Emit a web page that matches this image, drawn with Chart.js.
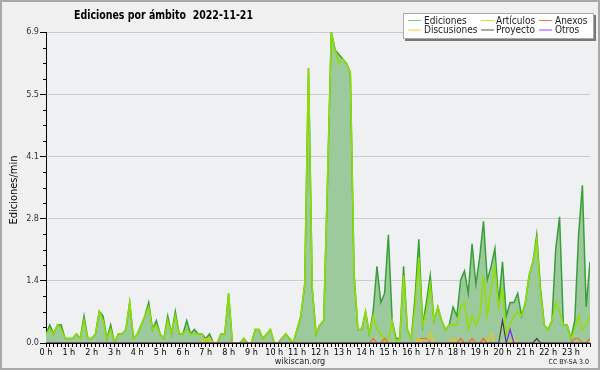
<!DOCTYPE html>
<html>
<head>
<meta charset="utf-8">
<script src="https://cdn.jsdelivr.net/npm/chart.js@4.4.0/dist/chart.umd.min.js"></script>
<style>
html, body {margin: 0; padding: 0; background: #f0f0f0;}
canvas {display: block;}
</style>
</head>
<body>
<canvas id="ediciones_canvas" width="600" height="370"></canvas>
<script>
// one value per 10 minutes, 00:00 .. 23:50 (edits per minute)
const ediciones = [
    0.2,0.4,0.2,0.4,0.4,0.1, 0.1,0.1,0.2,0.1,0.6,0.1, 0.1,0.2,0.7,0.6,0.1,0.4, 0.0,0.2,0.2,0.3,0.9,0.1,
    0.2,0.4,0.6,0.9,0.3,0.5, 0.2,0.1,0.6,0.2,0.7,0.2, 0.2,0.5,0.2,0.3,0.2,0.2, 0.1,0.2,0.0,0.0,0.2,0.2,
    1.1,0.0,0.0,0.0,0.1,0.0, 0.0,0.3,0.3,0.1,0.2,0.3, 0.0,0.0,0.1,0.2,0.1,0.0, 0.3,0.6,1.3,6.1,1.2,0.2,
    0.4,0.5,3.6,6.9,6.5,6.4, 6.3,6.2,6.0,1.5,0.3,0.3, 0.7,0.2,0.7,1.7,0.9,1.1, 2.4,0.5,0.1,0.1,1.7,0.3,
    0.1,1.0,2.3,0.4,0.9,1.5, 0.5,0.8,0.5,0.3,0.4,0.8, 0.6,1.4,1.6,1.1,2.2,1.3, 1.9,2.7,1.4,1.7,2.1,0.9,
    1.8,0.6,0.9,0.9,1.1,0.6, 0.9,1.5,1.8,2.4,1.2,0.4, 0.3,0.5,2.1,2.8,0.4,0.4, 0.1,0.5,2.4,3.5,0.8,1.8
];
const articulos = [
    0.2,0.3,0.2,0.4,0.3,0.1, 0.1,0.1,0.2,0.1,0.5,0.1, 0.1,0.2,0.7,0.5,0.1,0.3, 0.0,0.2,0.2,0.3,0.9,0.1,
    0.2,0.4,0.6,0.8,0.3,0.4, 0.2,0.1,0.5,0.2,0.6,0.2, 0.2,0.3,0.2,0.2,0.2,0.2, 0.0,0.1,0.0,0.0,0.2,0.2,
    1.1,0.0,0.0,0.0,0.1,0.0, 0.0,0.3,0.3,0.1,0.2,0.3, 0.0,0.0,0.1,0.2,0.1,0.0, 0.3,0.6,1.3,6.1,1.2,0.2,
    0.4,0.5,3.6,6.9,6.5,6.2, 6.3,6.2,6.0,1.5,0.3,0.3, 0.7,0.2,0.6,0.3,0.2,0.1, 0.1,0.5,0.0,0.1,1.5,0.3,
    0.1,0.8,1.9,0.4,0.7,1.3, 0.5,0.8,0.5,0.3,0.4,0.4, 0.4,0.8,0.9,0.3,0.6,0.4, 0.6,1.5,0.6,1.2,1.7,0.8,
    1.2,0.2,0.4,0.6,0.7,0.6, 0.9,1.5,1.8,2.3,1.1,0.4, 0.3,0.5,0.9,0.7,0.4,0.4, 0.1,0.3,0.6,0.3,0.4,0.6
];
const anexos = [
    0,0,0,0,0,0, 0,0,0,0,0,0, 0,0,0,0,0,0, 0,0,0,0,0,0,
    0,0,0,0,0,0, 0,0,0,0,0,0, 0,0,0,0,0,0, 0,0,0,0,0,0,
    0,0,0,0,0,0, 0,0,0,0,0,0, 0,0,0,0,0,0, 0,0,0,0,0,0,
    0,0,0,0,0,0, 0,0,0,0,0,0, 0,0,0.1,0,0,0.1, 0,0,0,0,0,0,
    0,0,0.1,0.1,0.1,0, 0,0,0,0,0,0, 0,0.1,0,0,0.1,0, 0,0.1,0,0,0,0,
    0,0,0,0,0,0, 0,0,0,0,0,0, 0,0,0,0,0,0, 0,0.1,0.1,0,0,0.1
];
const discusiones = [
    0,0,0,0,0,0, 0,0,0,0,0,0, 0,0,0,0,0,0, 0,0,0,0,0,0,
    0,0,0,0,0,0, 0,0,0,0,0,0, 0,0,0,0,0,0, 0.1,0.1,0,0,0,0,
    0,0,0,0,0,0, 0,0,0,0,0,0, 0,0,0,0,0,0, 0,0,0,0,0,0,
    0,0,0,0,0,0, 0,0,0,0,0,0, 0,0,0,0,0,0, 0,0,0,0,0,0,
    0,0,0.1,0,0,0.2, 0,0,0,0,0,0.1, 0,0,0,0,0,0, 0,0,0,0.2,0,0,
    0,0,0,0.1,0,0, 0,0,0,0,0,0, 0,0,0,0,0,0, 0,0,0,0,0,0
];
const proyecto = [
    0,0,0,0,0,0, 0,0,0,0,0,0, 0,0,0,0,0,0, 0,0,0,0,0,0,
    0,0,0,0,0,0, 0,0,0,0,0,0, 0,0,0,0,0,0, 0,0,0,0,0,0,
    0,0,0,0,0,0, 0,0,0,0,0,0, 0,0,0,0,0,0, 0,0,0,0,0,0,
    0,0,0,0,0,0, 0,0,0,0,0,0, 0,0,0,0,0,0, 0,0,0,0,0,0,
    0,0,0,0,0,0, 0,0,0,0,0,0, 0,0,0,0,0,0, 0,0,0,0,0,0,
    0.5,0,0,0,0,0, 0,0,0,0.1,0,0, 0,0,0,0,0,0, 0,0,0,0,0,0
];
const otros = [
    0,0,0,0,0,0, 0,0,0,0,0,0, 0,0,0,0,0,0, 0,0,0,0,0,0,
    0,0,0,0,0,0, 0,0,0,0,0,0, 0,0,0,0,0,0, 0,0,0,0,0,0,
    0,0,0,0,0,0, 0,0,0,0,0,0, 0,0,0,0,0,0, 0,0,0,0,0,0,
    0,0,0,0,0,0, 0,0,0,0,0,0, 0,0,0,0,0,0, 0,0,0,0,0,0,
    0,0,0,0,0,0, 0,0,0,0,0,0, 0,0,0,0,0,0, 0,0,0,0,0,0,
    0,0,0.3,0,0,0, 0,0,0,0,0,0, 0,0,0,0,0,0, 0,0,0,0,0,0
];

const y_ticks = [0, 1.38, 2.76, 4.14, 5.52, 6.9];
const y_labels = ["0.0", "1.4", "2.8", "4.1", "5.5", "6.9"];
const legend_rows = [["Ediciones", "Artículos", "Anexos"], ["Discusiones", "Proyecto", "Otros"]];

const title_text = "Ediciones por ámbito  2022-11-21";
const font_family = '"DejaVu Sans Condensed", "DejaVu Sans", sans-serif';

function to_points(values) {
    return values.map((v, i) => ({x: i / 6, y: v}));
}

// draws text squeezed to a given width
function fit_text(ctx, text, x, y, width) {
    const w = ctx.measureText(text).width;
    ctx.save();
    ctx.translate(x, y);
    ctx.scale(width / w, 1);
    ctx.fillText(text, 0, 0);
    ctx.restore();
}

const legend_colors = {
    "Ediciones": "#77cc77", "Artículos": "#bbee22", "Anexos": "#ff7744",
    "Discusiones": "#ffcc33", "Proyecto": "#555555", "Otros": "#9944ff"
};

const decor_plugin = {
    id: "decor",
    beforeDraw(chart) {
        const {ctx, chartArea} = chart;
        ctx.save();
        ctx.fillStyle = "#f0f0f0";
        ctx.fillRect(0, 0, chart.width, chart.height);
        ctx.fillStyle = "#eef0f2";
        ctx.fillRect(chartArea.left, chartArea.top, chartArea.right - chartArea.left, chartArea.bottom - chartArea.top);
        ctx.restore();
    },
    afterDraw(chart) {
        const {ctx, chartArea} = chart;
        const y_scale = chart.scales.y;
        ctx.save();

        // minor ticks on the y axis
        ctx.strokeStyle = "#000";
        ctx.lineWidth = 1;
        ctx.beginPath();
        for (let k = 0; k < y_ticks.length - 1; k++) {
            for (let m = 1; m < 4; m++) {
                const v = y_ticks[k] + (y_ticks[k + 1] - y_ticks[k]) * m / 4;
                const py = Math.round(y_scale.getPixelForValue(v)) + 0.5;
                ctx.moveTo(chartArea.left - 3, py);
                ctx.lineTo(chartArea.left, py);
            }
        }
        ctx.stroke();

        // title
        ctx.fillStyle = "#000";
        ctx.font = "bold 13px " + font_family;
        ctx.textBaseline = "alphabetic";
        fit_text(ctx, title_text, 74, 18.5, 179);

        // legend box
        ctx.fillStyle = "#777";
        ctx.fillRect(405, 15, 191, 26);
        ctx.fillStyle = "#fff";
        ctx.fillRect(403, 13, 191, 26);
        ctx.strokeStyle = "#aaa";
        ctx.strokeRect(403.5, 13.5, 190, 25);

        const line_x = [408, 481, 539];
        const text_x = [424, 496, 555];
        const row_y = [20, 29.5];
        ctx.font = "10px " + font_family;
        ctx.lineWidth = 1;
        legend_rows.forEach((row, r) => {
            row.forEach((name, c) => {
                ctx.strokeStyle = legend_colors[name];
                ctx.beginPath();
                ctx.moveTo(line_x[c], row_y[r] + 0.5);
                ctx.lineTo(line_x[c] + 13, row_y[r] + 0.5);
                ctx.stroke();
                ctx.fillStyle = "#222";
                ctx.fillText(name, text_x[c], row_y[r] + 3.5);
            });
        });

        // y axis title
        ctx.fillStyle = "#000";
        ctx.font = "11px " + font_family;
        ctx.save();
        ctx.translate(17, 190);
        ctx.rotate(-Math.PI / 2);
        ctx.textAlign = "center";
        ctx.fillText("Ediciones/min", 0, 0);
        ctx.restore();

        // footer
        ctx.font = "9px " + font_family;
        ctx.textAlign = "center";
        ctx.fillStyle = "#222";
        ctx.fillText("wikiscan.org", 300, 364);
        ctx.font = "7px " + font_family;
        ctx.textAlign = "right";
        ctx.fillText("CC BY-SA 3.0", 589, 364);

        // frame of the picture
        ctx.strokeStyle = "#a8a8a8";
        ctx.lineWidth = 2;
        ctx.strokeRect(1, 1, 598, 368);
        ctx.restore();
    }
};

const data = {
    datasets: [
        {label: "Ediciones", data: to_points(ediciones), borderColor: "#3a9f3a", backgroundColor: "#9dca9d", fill: "origin", borderWidth: 1.5, order: 10},
        {label: "Discusiones", data: to_points(discusiones), borderColor: "#ffc400", borderWidth: 1.2, fill: false, order: 2},
        {label: "Artículos", data: to_points(articulos), borderColor: "#8fe000", borderWidth: 1.5, fill: false, order: 5},
        {label: "Proyecto", data: to_points(proyecto), borderColor: "#444444", borderWidth: 1.2, fill: false, order: 1},
        {label: "Anexos", data: to_points(anexos), borderColor: "#ff6622", borderWidth: 1.2, fill: false, order: 3},
        {label: "Otros", data: to_points(otros), borderColor: "#7a22ff", borderWidth: 1.2, fill: false, order: 1}
    ]
};

const config = {
    type: "line",
    data: data,
    options: {
        responsive: false,
        animation: false,
        devicePixelRatio: 1,
        elements: {point: {radius: 0}, line: {tension: 0}},
        layout: {padding: {top: 32, right: 10, bottom: 0, left: 0}},
        plugins: {
            legend: {display: false},
            title: {display: false},
            tooltip: {enabled: false}
        },
        scales: {
            x: {
                type: "linear",
                min: 0,
                max: 143 / 6,
                afterBuildTicks: function(scale) {
                    const ticks = [];
                    for (let k = 0; k < 144; k++) {ticks.push({value: k / 6});}
                    scale.ticks = ticks;
                },
                afterFit: function(scale) {scale.height = 27;},
                ticks: {
                    autoSkip: false,
                    maxRotation: 0,
                    padding: 0,
                    color: "#000",
                    font: {family: font_family, size: 9},
                    callback: function(value, index) {return index % 6 === 0 ? (index / 6) + " h" : "";}
                },
                grid: {drawOnChartArea: false, tickLength: 4, color: "#000"},
                border: {color: "#000", width: 1}
            },
            y: {
                min: 0,
                max: 6.9,
                afterBuildTicks: function(scale) {
                    scale.ticks = y_ticks.map(v => ({value: v}));
                },
                afterFit: function(scale) {scale.width = 46;},
                ticks: {
                    padding: 1,
                    color: "#333",
                    font: {family: font_family, size: 9},
                    callback: function(value, index) {return y_labels[index];}
                },
                grid: {color: "#cccccc", tickColor: "#000", tickLength: 6},
                border: {color: "#000", width: 1}
            }
        }
    },
    plugins: [decor_plugin]
};

const ediciones_plot = new Chart(document.getElementById("ediciones_canvas"), config);
</script>
</body>
</html>
